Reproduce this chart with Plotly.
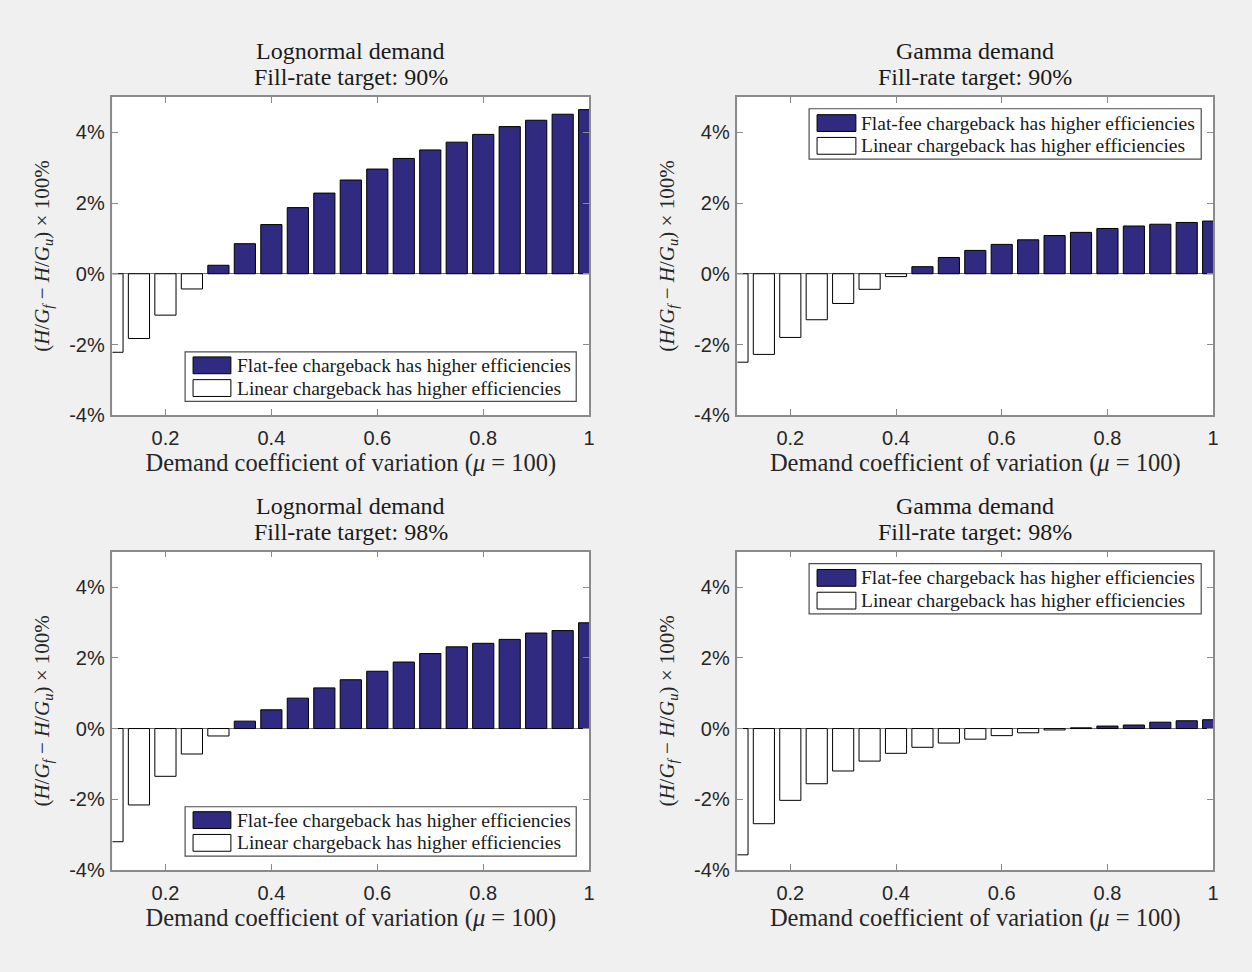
import plotly.graph_objects as go

# ---------------- data ----------------
cv = [0.10, 0.15, 0.20, 0.25, 0.30, 0.35, 0.40, 0.45, 0.50, 0.55,
      0.60, 0.65, 0.70, 0.75, 0.80, 0.85, 0.90, 0.95, 1.00]

lognormal_90 = [-2.22, -1.83, -1.17, -0.43, 0.24, 0.85, 1.39, 1.87, 2.28, 2.65,
                2.96, 3.26, 3.50, 3.72, 3.94, 4.16, 4.34, 4.51, 4.64]
gamma_90 = [-2.50, -2.28, -1.80, -1.30, -0.84, -0.44, -0.08, 0.20, 0.46, 0.66,
            0.83, 0.96, 1.08, 1.17, 1.28, 1.35, 1.40, 1.45, 1.49]
lognormal_98 = [-3.20, -2.16, -1.35, -0.72, -0.21, 0.21, 0.53, 0.86, 1.15, 1.38,
                1.62, 1.88, 2.12, 2.31, 2.41, 2.52, 2.70, 2.77, 2.99]
gamma_98 = [-3.57, -2.69, -2.03, -1.56, -1.20, -0.92, -0.70, -0.53, -0.41, -0.30,
            -0.20, -0.12, -0.04, 0.02, 0.07, 0.10, 0.18, 0.22, 0.25]

title_line1 = ["Lognormal demand", "Gamma demand", "Lognormal demand", "Gamma demand"]
title_line2 = ["Fill-rate target: 90%", "Fill-rate target: 90%",
               "Fill-rate target: 98%", "Fill-rate target: 98%"]
series = [lognormal_90, gamma_90, lognormal_98, gamma_98]
legend_pos = ["lower", "upper", "lower", "upper"]

legend_labels = ["Flat-fee chargeback has higher efficiencies",
                 "Linear chargeback has higher efficiencies"]
x_ticks = [0.2, 0.4, 0.6, 0.8, 1.0]
x_ticktext = ["0.2", "0.4", "0.6", "0.8", "1"]
y_ticks = [-4, -2, 0, 2, 4]
y_ticktext = ["-4%", "-2%", "0%", "2%", "4%"]
x_title = "Demand coefficient of variation (<i>μ</i> = 100)"
y_title = "(<i>H</i>/<i>G<sub>f</sub></i> − <i>H</i>/<i>G<sub>u</sub></i>) × 100%"

# ---------------- styling ----------------
FIG_W, FIG_H = 1252, 972
BG = "#f0f0f0"
BLUE = "#302a80"
AXIS_GRAY = "#8a8a8a"
TICK_FONT = dict(family="Liberation Sans, Arial, sans-serif", size=20, color="#262626")
SERIF = "Liberation Serif, Times New Roman, serif"

# panel pixel boxes (left, top, right, bottom)
panels = [(113, 98, 592, 420), (741, 98, 1219, 420),
          (113, 558, 592, 880), (741, 558, 1219, 880)]

fig = go.Figure()
layout_axes = {}
shapes = []
annotations = []

for i, (vals, (l, t, r, b), lp) in enumerate(zip(series, panels, legend_pos)):
    n = i + 1
    xa = "x" if n == 1 else f"x{n}"
    ya = "y" if n == 1 else f"y{n}"
    pos = [v if v > 0 else None for v in vals]
    neg = [v if v <= 0 else None for v in vals]
    fig.add_trace(go.Bar(x=cv, y=pos, width=0.04, name=legend_labels[0],
                         marker=dict(color=BLUE, line=dict(color="black", width=1)),
                         xaxis=xa, yaxis=ya, showlegend=False))
    fig.add_trace(go.Bar(x=cv, y=neg, width=0.04, name=legend_labels[1],
                         marker=dict(color="white", line=dict(color="black", width=1)),
                         xaxis=xa, yaxis=ya, showlegend=False))

    xkey = "xaxis" if n == 1 else f"xaxis{n}"
    ykey = "yaxis" if n == 1 else f"yaxis{n}"
    layout_axes[xkey] = dict(
        domain=[l / FIG_W, r / FIG_W], anchor=ya, range=[0.1, 1.0],
        tickvals=x_ticks, ticktext=x_ticktext, ticks="inside", ticklen=6,
        tickcolor=AXIS_GRAY, showline=True, linecolor=AXIS_GRAY, linewidth=1.5,
        mirror="ticks", showgrid=False, zeroline=False, tickfont=TICK_FONT,
        ticklabelstandoff=4,
        title=dict(text=x_title,
                   font=dict(family=SERIF, size=24.5, color="#262626"), standoff=1),
    )
    layout_axes[ykey] = dict(
        domain=[1 - b / FIG_H, 1 - t / FIG_H], anchor=xa, range=[-4, 5],
        tickvals=y_ticks, ticktext=y_ticktext, ticks="inside", ticklen=6,
        tickcolor=AXIS_GRAY, showline=True, linecolor=AXIS_GRAY, linewidth=1.5,
        mirror="ticks", showgrid=False, zeroline=True, zerolinecolor="#707070",
        zerolinewidth=1, tickfont=TICK_FONT, ticklabelstandoff=2,
        title=dict(text=y_title,
                   font=dict(family=SERIF, size=21, color="#262626"), standoff=14),
    )

    # panel title (two centred lines)
    for txt, shift in ((title_line1[i], 46), (title_line2[i], 20)):
        annotations.append(dict(text=txt, xref=f"{xa} domain", yref=f"{ya} domain",
                                x=0.5, y=1.0, yshift=shift, xanchor="center", yanchor="middle",
                                showarrow=False,
                                font=dict(family=SERIF, size=24, color="#1a1a1a")))

    # custom legend (MATLAB style wide swatches)
    W, H = r - l, b - t
    if lp == "lower":
        box = (73, 258, 466, 308)
        rows = [(263, 280), (286, 303)]
        sx, tx = (81, 119), 123
    else:
        box = (72, 12, 466, 63)
        rows = [(18, 35), (41, 58)]
        sx, tx = (80, 119), 122
    fx = lambda px: px / W
    fy = lambda py: 1 - py / H
    shapes.append(dict(type="rect", xref=f"{xa} domain", yref=f"{ya} domain",
                       x0=fx(box[0]), x1=fx(box[2]), y0=fy(box[3]), y1=fy(box[1]),
                       fillcolor="white", line=dict(color="#4d4d4d", width=1.2), layer="above"))
    for k, (ry0, ry1) in enumerate(rows):
        shapes.append(dict(type="rect", xref=f"{xa} domain", yref=f"{ya} domain",
                           x0=fx(sx[0]), x1=fx(sx[1]), y0=fy(ry1), y1=fy(ry0),
                           fillcolor=BLUE if k == 0 else "white",
                           line=dict(color="black", width=1), layer="above"))
        annotations.append(dict(text=legend_labels[k], xref=f"{xa} domain", yref=f"{ya} domain",
                                x=fx(tx), y=fy((ry0 + ry1) / 2), xanchor="left", yanchor="middle",
                                showarrow=False,
                                font=dict(family=SERIF, size=19.5, color="#1a1a1a")))

fig.update_layout(
    width=FIG_W, height=FIG_H,
    margin=dict(l=0, r=0, t=0, b=0),
    paper_bgcolor=BG, plot_bgcolor="white",
    barmode="overlay", showlegend=False,
    shapes=shapes, annotations=annotations,
    **layout_axes,
)

page_fix = (
    "var de=document.documentElement, bd=document.body;"
    "[de, bd].forEach(function(e){e.style.margin='0';e.style.padding='0';"
    "e.style.overflow='hidden';e.style.width='1252px';e.style.height='972px';"
    "e.style.fontSize='0';e.style.lineHeight='0';e.style.background='#f0f0f0';});"
    "Array.prototype.forEach.call(bd.children, function(c){"
    "if(c.tagName==='DIV'){c.style.height='972px';c.style.overflow='hidden';}});"
)

fig.write_html("out.html", config={"displayModeBar": False}, post_script=page_fix)
